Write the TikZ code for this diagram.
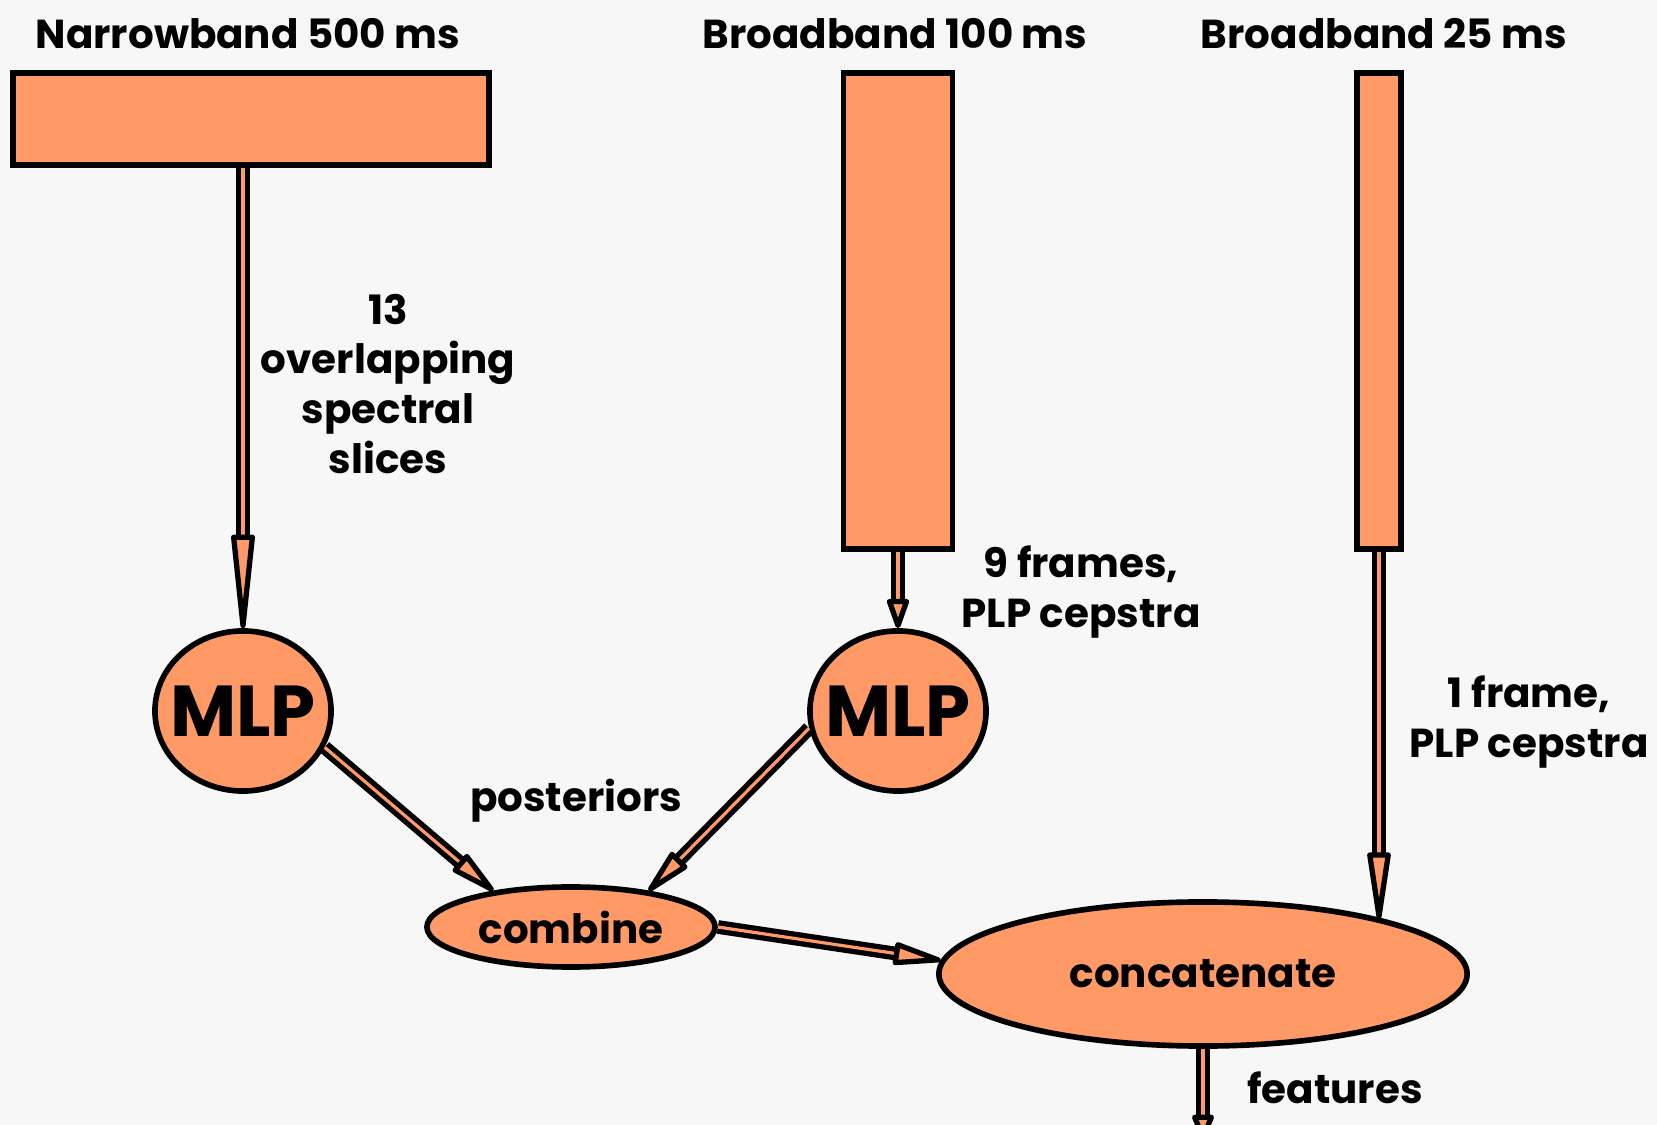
\documentclass[tikz,border=0pt]{standalone}
\usepackage{fontspec}
\setmainfont{Poppins}
\usetikzlibrary{shapes.geometric,arrows.meta,positioning,calc}
\definecolor{bandfill}{HTML}{FF9966}
\definecolor{paper}{HTML}{F7F7F7}

\begin{document}
\begin{tikzpicture}[x=0.01cm, y=-0.01cm,
    band/.style={rectangle, draw, line width=1.6pt, fill=bandfill, inner sep=0pt},
    net/.style={ellipse, draw, line width=1.6pt, fill=bandfill, inner sep=-0.13cm, font=\bfseries\fontsize{20.5}{24}\selectfont},
    merge/.style={ellipse, draw, line width=1.6pt, fill=bandfill, inner sep=0pt, font=\bfseries\fontsize{11.5}{14}\selectfont},
    lbl/.style={font=\bfseries\fontsize{11.5}{14.2}\selectfont, align=center},
    pipe/.style={line width=1.5pt, double=bandfill, double distance=0.9pt,
        -{Triangle[round, length=#1, width=0.23cm, fill=bandfill, line width=1.5pt]}}
]
\useasboundingbox[fill=paper] (0,0) rectangle (1657,1125);

% input bands
\node[band, minimum width=4.76cm, minimum height=0.92cm] (nb) at (251,119) {};
\node[band, minimum width=1.09cm, minimum height=4.76cm] (bb100) at (898,311) {};
\node[band, minimum width=0.44cm, minimum height=4.76cm] (bb25) at (1379,311) {};

\node[lbl] (nbl) at (248,34) {Narrowband 500 ms};
\node[lbl] (bbl1) at (895,34) {Broadband 100 ms};
\node[lbl] (bbl2) at (1384,34) {Broadband 25 ms};

% networks
\node[net, minimum width=1.76cm, minimum height=1.6cm] (mlp1) at (243,711) {MLP};
\node[net, minimum width=1.76cm, minimum height=1.6cm] (mlp2) at (898,711) {MLP};

% merging
\node[merge, minimum width=2.88cm, minimum height=0.8cm] (combine) at (571,927) {combine};
\node[merge, minimum width=5.28cm, minimum height=1.44cm] (concat) at (1203,974) {concatenate};
\coordinate (out) at (1203,1140);

% labels
\node[lbl] (slices) at (388,384) {13\\overlapping\\spectral\\slices};
\node[lbl] (frames9) at (1081,592) {9 frames,\\PLP cepstra};
\node[lbl] (frames1) at (1529,722) {1 frame,\\PLP cepstra};
\node[lbl] (post) at (576,801) {posteriors};
\node[lbl] (feat) at (1335,1088) {features};

% connectors
\draw[pipe=1.18cm] (mlp1.north |- nb.south) -- (mlp1.north);
\draw[pipe=0.35cm] (bb100.south) -- (mlp2.north);
\draw[pipe=0.83cm] (bb25.south) -- (bb25.south |- concat.17);
\draw[pipe=0.55cm] (mlp1.-24) -- (combine.155);
\draw[pipe=0.55cm] (mlp2.191) -- (combine.25);
\draw[pipe=0.58cm] (combine.east) -- (concat.177);
\draw[pipe=0.3cm] (concat.south) -- (out);

\end{tikzpicture}
\end{document}
